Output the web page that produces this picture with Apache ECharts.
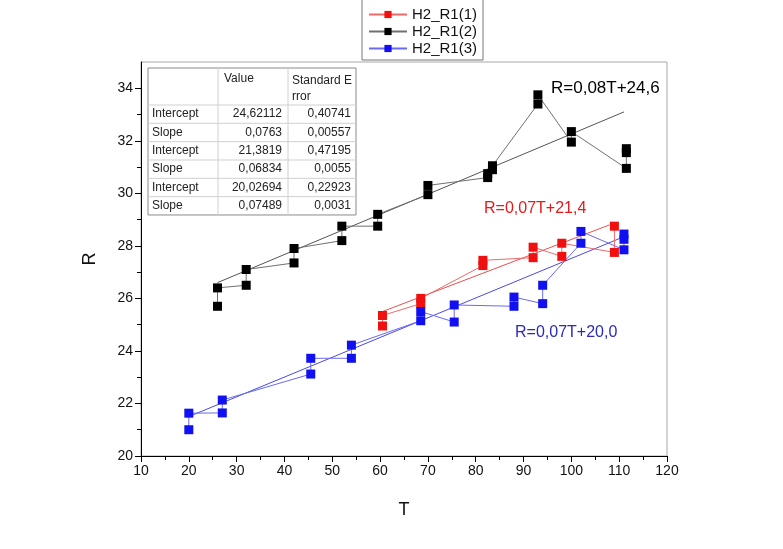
<!DOCTYPE html>
<html>
<head>
<meta charset="utf-8">
<script src="https://cdn.jsdelivr.net/npm/echarts@6/dist/echarts.min.js"></script>
<style>html,body{margin:0;padding:0;background:#fff}#c{width:783px;height:549px}</style>
</head>
<body>
<div id="c"></div>
<script>
// ---- data ----
var seriesNames = ['H2_R1(1)', 'H2_R1(2)', 'H2_R1(3)'];
// [T, R] pairs, in drawing order
var red = [[60.5,24.95],[60.5,25.35],[68.5,25.8],[68.5,26.0],[81.5,27.25],[81.5,27.45],[92,27.55],[92,27.95],[98,27.6],[98,28.1],[109,27.75],[109,28.75]];
var black = [[26,25.7],[26,26.4],[32,26.5],[32,27.1],[42,27.35],[42,27.9],[52,28.2],[52,28.75],[59.5,28.75],[59.5,29.2],[70,29.95],[70,30.3],[82.5,30.6],[82.5,30.75],[83.5,30.9],[83.5,31.05],[93,33.4],[93,33.75],[100,31.95],[100,32.35],[111.5,30.95],[111.5,31.55],[111.5,31.7]];
var blue = [[20,21.0],[20,21.63],[27,21.64],[27,22.13],[45.5,23.12],[45.5,23.72],[54,23.72],[54,24.22],[68.5,25.15],[68.5,25.5],[75.5,25.1],[75.5,25.75],[88,25.7],[88,26.05],[94,25.8],[94,26.5],[102,28.1],[102,28.55],[111,27.85],[111,28.25],[111,28.45]];
// fitted line end points
var redFit = [[60.5,25.5],[108,28.8]];
var blackFit = [[26,26.6],[111,33.1]];
var blueFit = [[20,21.5],[111,28.35]];
var fitLabels = ['R=0,07T+21,4', 'R=0,08T+24,6', 'R=0,07T+20,0'];
// table
var tableHeader = ['', 'Value', 'Standard E\nrror'];
var tableRowNames = ['Intercept','Slope','Intercept','Slope','Intercept','Slope'];
var tableValues = ['24,62112','0,0763','21,3819','0,06834','20,02694','0,07489'];
var tableErrors = ['0,40741','0,00557','0,47195','0,0055','0,22923','0,0031'];
// axis ticks
var yMajorTicks = [20,22,24,26,28,30,32,34];
var yMinorTicks = [21,23,25,27,29,31,33];

var RED = '#f01010', BLACK = '#000000', BLUE = '#1010f0';
var FONT = 'Liberation Sans, Arial, sans-serif';

var chart = echarts.init(document.getElementById('c'));

// table graphics
var g = [];
var tx0 = 148, tc1 = 218, tc2 = 288, tx1 = 356, ty0 = 68, thd = 37, rh = 18.33;
var tBottom = ty0 + thd + rh * tableRowNames.length;
g.push({type:'rect', shape:{x:tx0, y:ty0, width:tx1-tx0, height:tBottom-ty0}, style:{fill:'#fff', stroke:'#8a8a8a', lineWidth:1}, z:100});
g.push({type:'line', shape:{x1:tc1, y1:ty0, x2:tc1, y2:tBottom}, style:{stroke:'#d0d0d0', lineWidth:1}, z:101});
g.push({type:'line', shape:{x1:tc2, y1:ty0, x2:tc2, y2:tBottom}, style:{stroke:'#d0d0d0', lineWidth:1}, z:101});
for (var i = 0; i < tableRowNames.length; i++) {
  var yy = ty0 + thd + rh * i;
  g.push({type:'line', shape:{x1:tx0, y1:yy, x2:tx1, y2:yy}, style:{stroke:'#d0d0d0', lineWidth:1}, z:101});
  g.push({type:'text', x:tx0+4, y:yy+rh/2, style:{text:tableRowNames[i], font:'12px '+FONT, fill:'#222', verticalAlign:'middle'}, z:102});
  g.push({type:'text', x:tc2-6, y:yy+rh/2, style:{text:tableValues[i], font:'12px '+FONT, fill:'#222', align:'right', verticalAlign:'middle'}, z:102});
  g.push({type:'text', x:tx1-5, y:yy+rh/2, style:{text:tableErrors[i], font:'12px '+FONT, fill:'#222', align:'right', verticalAlign:'middle'}, z:102});
}
g.push({type:'text', x:tc1+6, y:ty0+5, style:{text:tableHeader[1], font:'12px '+FONT, fill:'#222'}, z:102});
g.push({type:'text', x:tc2+4, y:ty0+5, style:{text:tableHeader[2], font:'12px '+FONT, fill:'#222', lineHeight:16}, z:102});
// fit equation labels
g.push({type:'text', x:551, y:88, style:{text:fitLabels[1], font:'17px '+FONT, fill:'#000', verticalAlign:'middle'}, z:50});
g.push({type:'text', x:484, y:209, style:{text:fitLabels[0], font:'16px '+FONT, fill:'#e51a1a', verticalAlign:'middle'}, z:50});
g.push({type:'text', x:515, y:333, style:{text:fitLabels[2], font:'16px '+FONT, fill:'#2a2ac0', verticalAlign:'middle'}, z:50});

function dataSeries(name, data, color, lineColor) {
  return {name:name, type:'line', data:data, symbol:'rect', symbolSize:[9,9], showSymbol:true,
    itemStyle:{color:color}, lineStyle:{color:lineColor, width:1}, emphasis:{disabled:true}, z:5};
}
function fitSeries(name, data, color) {
  return {name:name, type:'line', data:data, symbol:'none', silent:true,
    lineStyle:{color:color, width:1}, z:4};
}

chart.setOption({
  animation:false,
  backgroundColor:'#fff',
  textStyle:{fontFamily:FONT},
  grid:{left:141, right:116, top:62, bottom:93, show:true, borderColor:'#a8a8a8', borderWidth:1},
  legend:{
    data:seriesNames, orient:'vertical', left:362, top:-3, itemGap:2, itemWidth:38, itemHeight:9,
    borderColor:'#777', borderWidth:1, padding:[10,6,4,6], backgroundColor:'#fff',
    textStyle:{fontSize:15, color:'#111', fontFamily:FONT}
  },
  xAxis:{type:'value', min:10, max:120, interval:10, name:'T', nameLocation:'middle', nameGap:45,
    nameTextStyle:{fontSize:18, color:'#111'},
    axisLine:{lineStyle:{color:'#000', width:1}},
    axisTick:{show:true, length:6, lineStyle:{color:'#000'}},
    minorTick:{show:true, splitNumber:2, length:4, lineStyle:{color:'#000'}},
    axisLabel:{fontSize:14, color:'#111', margin:8},
    splitLine:{show:false}},
  yAxis:[{type:'value', min:20, max:35, name:'R', nameLocation:'middle', nameGap:42,
    nameTextStyle:{fontSize:18, color:'#111'},
    axisLine:{show:true, lineStyle:{color:'#000', width:1}},
    axisTick:{show:true, length:6, customValues:yMajorTicks, lineStyle:{color:'#000'}},
    axisLabel:{fontSize:14, color:'#111', margin:8, customValues:yMajorTicks},
    splitLine:{show:false}},
   {type:'value', min:20, max:35, position:'left',
    axisLine:{show:false},
    axisTick:{show:true, length:4, customValues:yMinorTicks, lineStyle:{color:'#000'}},
    axisLabel:{show:false}, splitLine:{show:false}}],
  series:[
    fitSeries('fit1', redFit, '#e85050'),
    fitSeries('fit2', blackFit, '#555555'),
    fitSeries('fit3', blueFit, '#4a4ae0'),
    dataSeries(seriesNames[0], red, RED, '#ee6a6a'),
    dataSeries(seriesNames[1], black, BLACK, '#707070'),
    dataSeries(seriesNames[2], blue, BLUE, '#6a6aee')
  ],
  graphic:g
});
</script>
</body>
</html>
